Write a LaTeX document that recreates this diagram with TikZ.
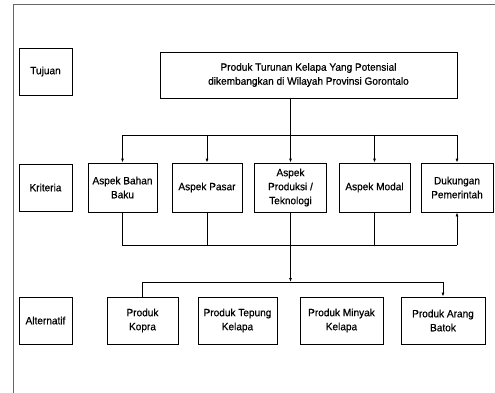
\documentclass[tikz,border=0pt]{standalone}
\usepackage{fontspec}
\setmainfont{Liberation Sans}[FakeBold=0.6, FakeStretch=0.96]
\usetikzlibrary{arrows.meta}

\begin{document}
\begin{tikzpicture}[x=1pt, y=-1pt, >={Latex[length=4pt,width=3pt]},
    font=\fontsize{10.5}{14}\selectfont, line width=0.8pt,
    kotak/.style={draw, align=center, inner sep=2pt, minimum height=47pt}]
  \useasboundingbox (0,0) rectangle (495,393);
  % bingkai
  \draw[gray!80!black] (495,4) -- (13,4) -- (13,393);

  % level
  \node[kotak, minimum width=53pt] (tujuan) at (45.5,71.5) {Tujuan};
  \node[kotak, minimum width=53pt] (kriteria) at (45.5,187.5) {Kriteria};
  \node[kotak, minimum width=53pt] (alternatif) at (45.5,320.5) {Alternatif};

  % tujuan
  \node[kotak, minimum width=297pt, minimum height=46pt] (goal) at (308.5,75)
    {Produk Turunan Kelapa Yang Potensial\\dikembangkan di Wilayah Provinsi Gorontalo};

  % kriteria
  \node[kotak, minimum width=69pt, minimum height=49pt] (bahan) at (122.5,187.5) {Aspek Bahan\\Baku};
  \node[kotak, minimum width=70pt, minimum height=49pt] (pasar) at (207,187.5) {Aspek Pasar};
  \node[kotak, minimum width=72pt, minimum height=49pt] (produksi) at (290.5,187.5) {Aspek\\Produksi /\\Teknologi};
  \node[kotak, minimum width=71pt, minimum height=49pt] (modal) at (374.5,187.5) {Aspek Modal};
  \node[kotak, minimum width=72pt, minimum height=49pt] (pemerintah) at (457,187.5) {Dukungan\\Pemerintah};

  % alternatif
  \node[kotak, minimum width=71pt] (kopra) at (142.5,320.5) {Produk\\Kopra};
  \node[kotak, minimum width=79pt] (tepung) at (237.5,320.5) {Produk Tepung\\Kelapa};
  \node[kotak, minimum width=83pt] (minyak) at (341.5,320.5) {Produk Minyak\\Kelapa};
  \node[kotak, minimum width=84pt] (arang) at (443,320.5) {Produk Arang\\Batok};

  % garis bantu
  \coordinate (atas) at (0,135);
  \coordinate (bawah) at (0,245);
  \coordinate (alt) at (0,282);

  \draw (goal.south -| produksi) -- (atas -| produksi);
  \draw (atas -| bahan) -- (atas -| pemerintah);
  \foreach \k in {bahan,pasar,produksi,modal,pemerintah}
    \draw[->] (atas -| \k) -- (\k.north);

  \draw (bahan.south) -- (bawah -| bahan) -- (bawah -| pemerintah);
  \foreach \k in {pasar,produksi,modal}
    \draw (\k.south) -- (bawah -| \k);
  \draw[->] (bawah -| pemerintah) -- (pemerintah.south);

  \draw[->] (bawah -| produksi) -- (alt -| produksi);
  \draw (kopra.north) -- (alt -| kopra) -- (alt -| arang);
  \draw[->] (alt -| arang) -- (arang.north);
\end{tikzpicture}
\end{document}
